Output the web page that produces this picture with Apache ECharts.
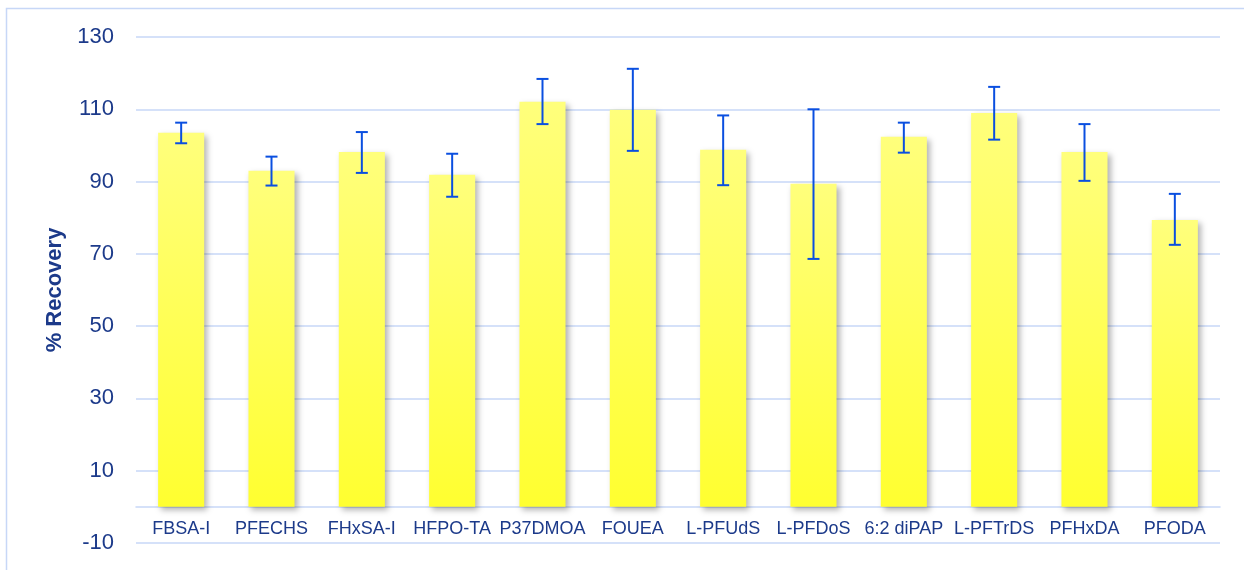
<!DOCTYPE html>
<html>
<head>
<meta charset="utf-8">
<script src="https://cdn.jsdelivr.net/npm/echarts@6/dist/echarts.min.js"></script>
<style>
  html, body { margin: 0; padding: 0; background: #fff; }
  #chart { width: 1244px; height: 570px; }
</style>
</head>
<body>
<div id="chart"></div>
<script>
// compounds on the x axis
const categories = ['FBSA-I', 'PFECHS', 'FHxSA-I', 'HFPO-TA', 'P37DMOA', 'FOUEA',
  'L-PFUdS', 'L-PFDoS', '6:2 diPAP', 'L-PFTrDS', 'PFHxDA', 'PFODA'];
// mean % recovery
const recovery = [103.5, 93.0, 98.2, 91.9, 112.1, 109.9, 98.8, 89.4, 102.4, 109.0, 98.2, 79.4];
// error bar ends
const errLow = [100.6, 88.9, 92.4, 85.8, 105.9, 98.5, 89.0, 68.6, 98.0, 101.6, 90.2, 72.5];
const errHigh = [106.3, 96.9, 103.7, 97.7, 118.4, 121.2, 108.3, 110.0, 106.3, 116.2, 105.9, 86.6];
const yTicks = [-10, 10, 30, 50, 70, 90, 110, 130];

const textColor = '#1c3a8a';
const gridColor = '#c7d7f7';
const errColor = '#0a4fe0';

const chart = echarts.init(document.getElementById('chart'));

const errData = categories.map((c, i) => [i, errLow[i], errHigh[i]]);

chart.setOption({
  animation: false,
  graphic: [{
    type: 'rect',
    shape: { x: 6.5, y: 8.5, width: 1300, height: 700 },
    style: { fill: 'none', stroke: gridColor, lineWidth: 1.5 },
    silent: true
  }],
  grid: { left: 136, right: 24, top: 37, bottom: 27 },
  xAxis: {
    type: 'category',
    data: categories,
    axisLine: { onZero: true, lineStyle: { color: gridColor, width: 1.5 } },
    axisTick: { show: false },
    axisLabel: {
      color: textColor, fontSize: 18, fontFamily: 'Liberation Sans, Arial', margin: -23,
      interval: 0
    }
  },
  yAxis: {
    type: 'value',
    min: yTicks[0],
    max: yTicks[yTicks.length - 1],
    interval: 20,
    name: '% Recovery',
    nameLocation: 'middle',
    nameGap: 70,
    nameTextStyle: { color: textColor, fontSize: 22, fontWeight: 'bold', fontFamily: 'Liberation Sans, Arial' },
    axisLine: { show: false },
    axisTick: { show: false },
    axisLabel: { color: textColor, fontSize: 22, fontFamily: 'Liberation Sans, Arial', margin: 22 },
    splitLine: { lineStyle: { color: gridColor, width: 1.5 } }
  },
  series: [{
    type: 'bar',
    data: recovery,
    barWidth: '51%',
    itemStyle: {
      color: new echarts.graphic.LinearGradient(0, 0, 0, 1, [
        { offset: 0, color: '#ffff7c' },
        { offset: 1, color: '#ffff30' }
      ]),
      shadowColor: 'rgba(0,0,0,0.3)',
      shadowBlur: 6,
      shadowOffsetX: 3,
      shadowOffsetY: 3
    }
  }, {
    type: 'custom',
    data: errData,
    z: 10,
    renderItem: function (params, api) {
      const x = api.value(0);
      const lo = api.coord([x, api.value(1)]);
      const hi = api.coord([x, api.value(2)]);
      const cap = 6;
      const style = { stroke: errColor, lineWidth: 2 };
      return {
        type: 'group',
        children: [
          { type: 'line', shape: { x1: hi[0], y1: hi[1], x2: lo[0], y2: lo[1] }, style: style },
          { type: 'line', shape: { x1: hi[0] - cap, y1: hi[1], x2: hi[0] + cap, y2: hi[1] }, style: style },
          { type: 'line', shape: { x1: lo[0] - cap, y1: lo[1], x2: lo[0] + cap, y2: lo[1] }, style: style }
        ]
      };
    }
  }]
});
</script>
</body>
</html>
